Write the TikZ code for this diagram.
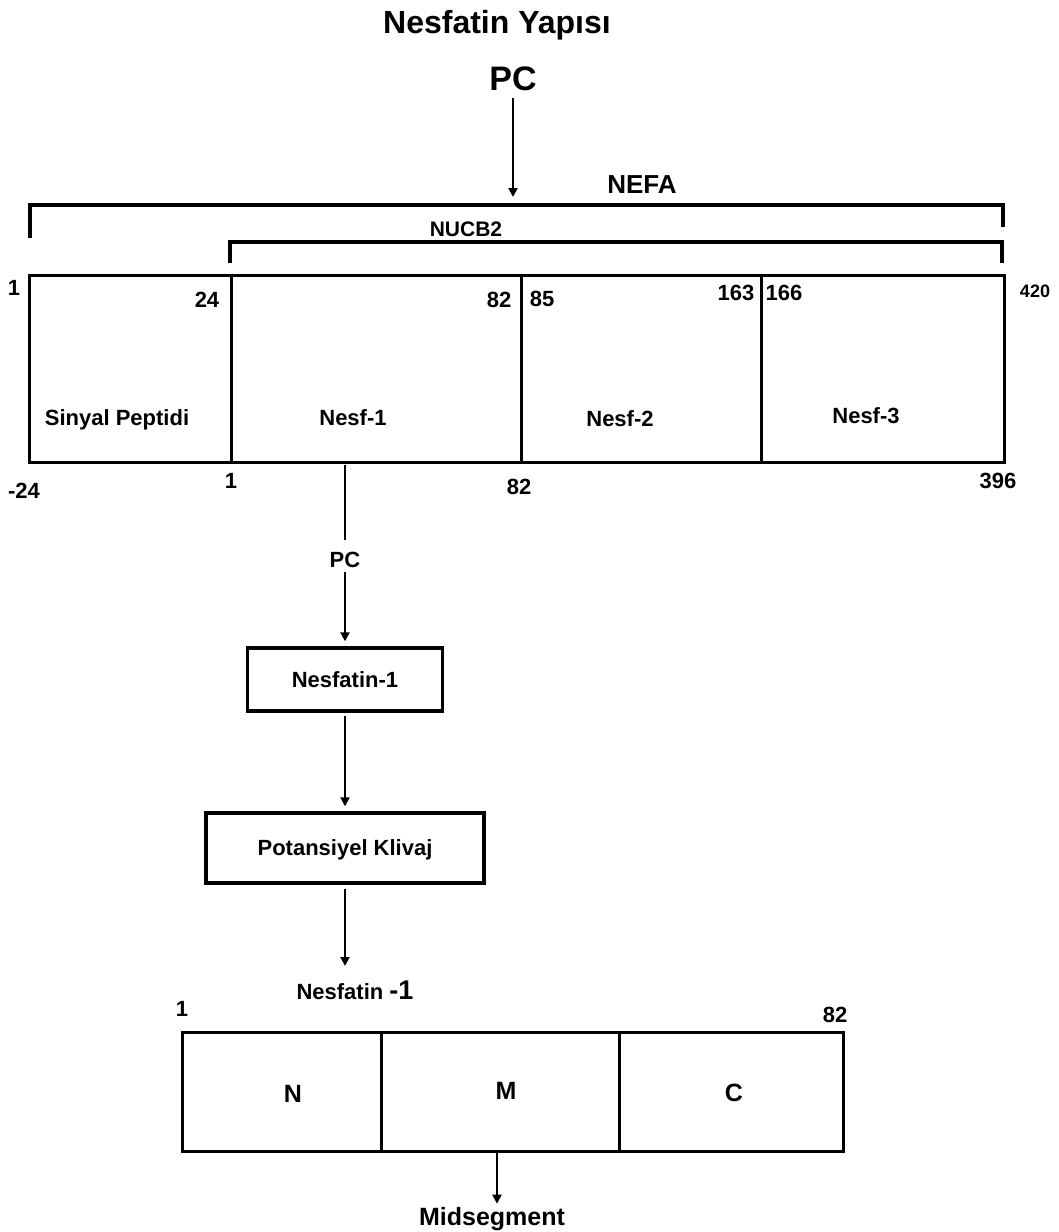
\documentclass[tikz,border=0pt]{standalone}
\usepackage{fontspec}
\setmainfont{Liberation Sans}
\usetikzlibrary{arrows.meta}
\begin{document}
\begin{tikzpicture}[x=1pt,y=-1pt,
  seg/.style={draw, line width=3.4pt, inner sep=0pt, anchor=north west},
  flowbox/.style={draw, line width=3.4pt, inner sep=0pt, text depth=0pt,
    font=\bfseries\fontsize{22}{26}\selectfont},
  lbl/.style={inner sep=0pt, anchor=base, font=\bfseries\fontsize{#1}{#1}\selectfont},
  lbl/.default=22,
  arr/.style={-{Triangle[length=9pt,width=9pt]}, line width=2pt},
  plainline/.style={line width=2pt},
  brk/.style={line width=3.2pt}]
\useasboundingbox[fill=white] (0,0) rectangle (1058,1232);

% titles
\node[lbl=32] (title) at (497,33) {Nesfatin Yapısı};
\node[lbl=34] (pc1) at (513,90) {PC};
\coordinate (nefapt) at (513,205);
\draw[arr, shorten <=7pt, shorten >=8pt] (pc1.south) -- (nefapt);

% brackets
\node[lbl=26] (nefa) at (642,193) {NEFA};
\draw[brk] (30,238) -- (30,205) -- (1003,205) -- (1003,227);
\node[lbl=21] (nucb) at (466,236.5) {NUCB2};
\draw[brk] (230,263) -- (230,242) -- (1002,242) -- (1002,263);

% main protein bar
\node[seg, minimum width=202pt, minimum height=187pt] (sp) at (28,274) {};
\node[seg, minimum width=290pt, minimum height=187pt] (s1) at (230,274) {};
\node[seg, minimum width=240pt, minimum height=187pt] (s2) at (520,274) {};
\node[seg, minimum width=243pt, minimum height=187pt] (s3) at (760,274) {};

\node[lbl] (spl) at (117,425) {Sinyal Peptidi};
\node[lbl] (s1l) at (353,425) {Nesf-1};
\node[lbl] (s2l) at (620,426) {Nesf-2};
\node[lbl] (s3l) at (866,423) {Nesf-3};

% numbers
\node[lbl] (t1) at (14,295) {1};
\node[lbl] (t24) at (207,307) {24};
\node[lbl] (t82) at (499,307) {82};
\node[lbl] (t85) at (542,306) {85};
\node[lbl] (t163) at (736,300) {163};
\node[lbl] (t166) at (784,300) {166};
\node[lbl=18] (t420) at (1035,297.5) {420};
\node[lbl] (bm24) at (24,498) {-24};
\node[lbl] (b1) at (231,488) {1};
\node[lbl] (b82) at (519,494) {82};
\node[lbl] (b396) at (998,488) {396};

% processing chain
\coordinate (cut) at (345,461);
\node[lbl] (pc2) at (345,567) {PC};
\draw[plainline, shorten <=4pt, shorten >=27pt] (cut) -- (pc2.base);
\node[flowbox, minimum width=195pt, minimum height=63pt] (nf1) at (345,679.5) {Nesfatin-1};
\draw[arr, shorten <=5pt, shorten >=5pt] (pc2.south) -- (nf1.north);
\node[flowbox, minimum width=278pt, minimum height=70pt] (pk) at (345,848) {Potansiyel Klivaj};
\draw[arr, shorten <=3pt, shorten >=5pt] (nf1.south) -- (pk.north);
\node[lbl] (ns) at (355,999) {Nesfatin {\fontsize{27}{27}\selectfont -1}};
\coordinate (nsarr) at (345,980);
\draw[arr, shorten <=4pt, shorten >=14pt] (pk.south) -- (nsarr);

% nesfatin-1 bar
\node[lbl] (c1) at (182,1016) {1};
\node[lbl] (c82) at (835,1022) {82};
\node[seg, minimum width=199pt, minimum height=119pt] (nseg) at (181,1031) {};
\node[seg, minimum width=238pt, minimum height=119pt] (mseg) at (380,1031) {};
\node[seg, minimum width=224pt, minimum height=119pt] (cseg) at (618,1031) {};
\node[lbl=25] (nl) at (293,1102) {N};
\node[lbl=25] (ml) at (506,1099) {M};
\node[lbl=25] (cl) at (734,1101) {C};

\node[lbl=25] (ms) at (492,1225) {Midsegment};
\coordinate (mid) at (497,1150);
\draw[arr, shorten >=3pt] (mid) -- (mid |- ms.north);
\end{tikzpicture}
\end{document}
